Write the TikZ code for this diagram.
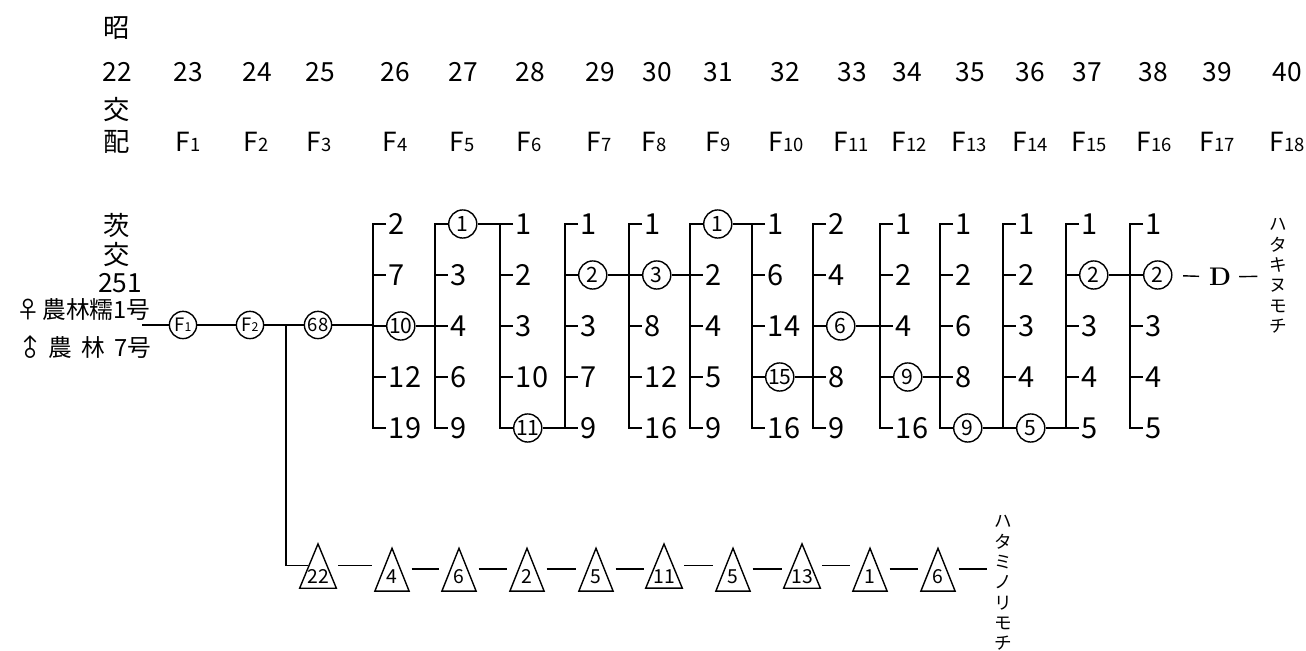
\documentclass[tikz,border=0pt]{standalone}
\usepackage{fontspec}
\usepackage{tikz}
\usetikzlibrary{shapes.geometric, calc}
\newfontfamily\jpfont{Noto Sans CJK JP}
\tikzset{
  hdrlbl/.style={font=\jpfont\fontsize{15}{17}\selectfont, inner sep=0pt},
  crosslbl/.style={font=\jpfont\fontsize{13.5}{15}\selectfont, inner sep=0pt, anchor=west},
  linenum/.style={font=\jpfont\fontsize{16.5}{18}\selectfont, anchor=west, inner sep=1.5pt},
  selnum/.style={circle, draw, line width=0.8pt, minimum size=16pt, inner sep=0pt,
                 anchor=west, font=\jpfont\fontsize{12}{13}\selectfont},
  gencirc/.style={circle, draw, line width=0.8pt, minimum size=15.5pt, inner sep=0pt,
                  font=\jpfont\fontsize{10.5}{12}\selectfont},
  tri/.style={isosceles triangle, isosceles triangle stretches, shape border rotate=90,
              draw, line width=0.8pt, minimum width=19.5pt, minimum height=24.4pt,
              inner sep=0pt, text depth=2.5pt, font=\jpfont\fontsize{11}{12}\selectfont},
  brk/.style={line width=0.8pt},
  varname/.style={font=\jpfont\fontsize{10}{11.6}\selectfont, align=center, inner sep=0pt},
  dlbl/.style={font=\bfseries\fontsize{14.5}{16}\selectfont, inner sep=0pt},
}
% one selection column: name, bracket x, circled row, five lines
\newcommand{\pcol}[8]{%
  \coordinate (#1-b) at (#2,224);
  \foreach \t [count=\i] in {#4,#5,#6,#7,#8}{
    \ifnum\i=#3\relax\def\st{selnum}\else\def\st{linenum}\fi
    \node[\st] (#1-\i) at ({#2+13},{224+51*(\i-1)}) {\t};
  }
  \draw[brk] (#1-1.west) -- (#1-b |- #1-1) -- (#1-b |- #1-5) -- (#1-5.west);
  \foreach \i in {2,3,4}{\draw[brk] (#1-b |- #1-\i) -- (#1-\i.west);}
}

\begin{document}
\begin{tikzpicture}[x=0.02cm, y=-0.02cm]
\useasboundingbox (0,0) rectangle (1306,651);

% header: years and generations
\node[hdrlbl] (showa) at (117,28) {昭};
\node[hdrlbl] (kou) at (117,110) {交};
\node[hdrlbl] (hai) at (117,142) {配};
\foreach \yr/\xx in {22/117,23/188,24/257,25/320,26/395,27/463,28/530,29/600,30/657,
                     31/718,32/785,33/852,34/907,35/970,36/1030,37/1087,38/1153,39/1217,40/1287}{
  \node[hdrlbl] (yr\yr) at (\xx,72) {\yr};
}
\foreach \g/\xx in {1/188,2/256,3/319,4/395,5/462,6/529,7/599,8/654,9/718,
                    10/786,11/851,12/909,13/969,14/1030,15/1089,16/1154,17/1217,18/1287}{
  \node[hdrlbl] (gen\g) at (\xx,142) {F{\fontsize{10.5}{12}\selectfont\g}};
}

% cross
\node[hdrlbl] (ibaraki) at (117,225) {茨};
\node[hdrlbl] (kou2) at (117,255) {交};
\node[hdrlbl] (crossno) at (120,283) {251};
\node[crosslbl] (mother) at (16,310) {♀\hspace{0.1em}農林糯1号};
\node[crosslbl] (father) at (16,348) {\rotatebox[origin=c]{45}{♂}\hspace{0.1em}農\hspace{0.4em}林\hspace{0.4em}7号};

\coordinate (cross) at (142,325);
\coordinate (jn) at (286,325);
\node[gencirc] (f1) at (183,325) {F{\fontsize{7}{8}\selectfont 1}};
\node[gencirc] (f2) at (250,325) {F{\fontsize{7}{8}\selectfont 2}};
\node[gencirc] (c68) at (318,325) {68};

% pedigree lines, F4 -- F16
\pcol{A}{373}{3}{2}{7}{10}{12}{19}
\pcol{B}{435}{1}{1}{3}{4}{6}{9}
\pcol{C}{500}{5}{1}{2}{3}{10}{11}
\pcol{D}{565}{2}{1}{2}{3}{7}{9}
\pcol{E}{629}{2}{1}{3}{8}{12}{16}
\pcol{F}{690}{1}{1}{2}{4}{5}{9}
\pcol{G}{752}{4}{1}{6}{14}{15}{16}
\pcol{H}{813}{3}{2}{4}{6}{8}{9}
\pcol{I}{880}{4}{1}{2}{4}{9}{16}
\pcol{J}{940}{5}{1}{2}{6}{8}{9}
\pcol{K}{1003}{5}{1}{2}{3}{4}{5}
\pcol{L}{1066}{2}{1}{2}{3}{4}{5}
\pcol{M}{1130}{2}{1}{2}{3}{4}{5}

\draw[brk] (cross) -- (f1) -- (f2) -- (c68) -- (c68 -| A-b);
\foreach \p/\r/\q in {A/3/B,B/1/C,C/5/D,D/2/E,E/2/F,F/1/G,G/4/H,H/3/I,I/4/J,J/5/K,K/5/L,L/2/M}{
  \draw[brk] (\p-\r.east) -- (\p-\r -| \q-b);
}

\node[dlbl] (dh) at (1220,277) {D};
\node[varname] (hatakinu) at (1278,276) {ハ\\タ\\キ\\ヌ\\モ\\チ};
\draw[brk, shorten <=6pt, shorten >=5.5pt] (M-2) -- (dh);
\draw[brk, shorten <=4.5pt, shorten >=6.5pt] (dh) -- (hatakinu);

% bulk line
\foreach \n/\xx [count=\k] in {22/318,4/392,6/459,2/527,5/596,11/664,5/733,13/802,1/870,6/938}{
  \node[tri] (t\k) at (\xx,579) {\n};
}
\draw[brk] (jn) |- (t1.left side);
\foreach \a/\b in {1/2,2/3,3/4,4/5,5/6,6/7,7/8,8/9,9/10}{
  \draw[brk, shorten <=6pt, shorten >=6pt] (t\a.right side) -- (t\a.right side -| t\b.left side);
}
\node[varname] (hataminori) at (1003,583) {ハ\\タ\\ミ\\ノ\\リ\\モ\\チ};
\draw[brk, shorten <=6.5pt, shorten >=4pt] (t10.right side) -- (t10.right side -| hataminori.west);

\end{tikzpicture}
\end{document}
